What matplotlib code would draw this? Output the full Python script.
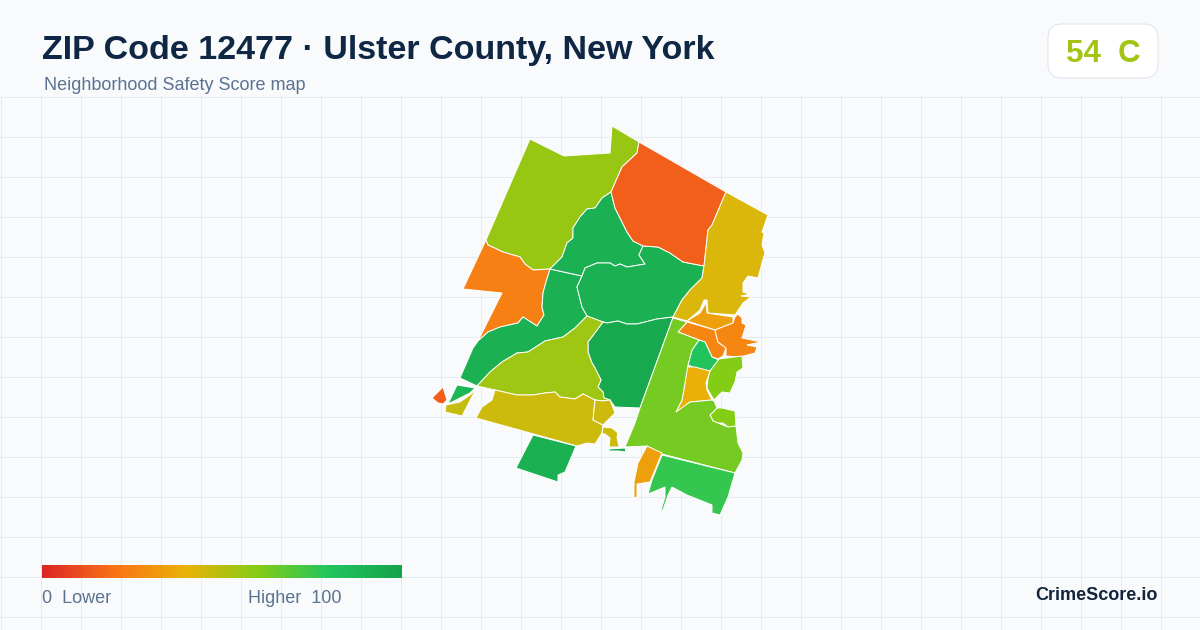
import numpy as np
import matplotlib
matplotlib.use("Agg")
import matplotlib.pyplot as plt
from matplotlib.colors import LinearSegmentedColormap
from matplotlib.patches import Polygon, FancyBboxPatch

TITLE = "ZIP Code 12477 · Ulster County, New York"
SUBTITLE = "Neighborhood Safety Score map"
SCORE_TEXT = "54  C"
BRAND = "CrimeScore.io"

stops = [0, 20, 40, 60, 80, 100]
stop_colors = ["#dc2626", "#f97316", "#eab308", "#84cc16", "#22c55e", "#16a34a"]

nw_lime = [(530,139),(564,156),(610,153),(612,126),(639,142),(637,153),(622,167),(611,192),(602,198),(595,208),(587,209),(580,217),(573,228),(573,238),(567,243),(562,257),(553,266),(550,269),(533,270),(525,264),(520,257),(503,252),(488,245),(486,240)]
w_orange = [(486,240),(488,245),(503,252),(520,257),(525,264),(533,270),(550,269),(546,282),(543,293),(542,307),(544,315),(537,326),(523,317),(518,323),(500,327),(488,332),(478,341),(502,293),(463,289)]
long_green = [(478,341),(488,332),(500,327),(518,323),(523,317),(537,326),(544,315),(542,307),(543,293),(546,282),(550,269),(582,276),(577,287),(582,307),(587,316),(575,328),(563,337),(545,341),(528,352),(517,353),(502,362),(490,372),(477,386),(460,378),(473,348)]
n_green = [(611,192),(615,208),(627,232),(633,241),(643,246),(639,255),(645,264),(627,267),(620,264),(615,266),(610,263),(597,263),(585,268),(582,276),(550,269),(553,266),(562,257),(567,243),(573,238),(573,228),(580,217),(587,209),(595,208),(602,198)]
c_green = [(582,276),(585,268),(597,263),(610,263),(615,266),(620,264),(627,267),(645,264),(639,255),(643,246),(658,247),(670,253),(683,262),(704,266),(702,278),(690,290),(682,300),(673,317),(657,319),(637,324),(627,324),(618,321),(607,323),(603,322),(587,316),(582,307),(577,287)]
s_green = [(603,322),(607,323),(618,321),(627,324),(637,324),(657,319),(673,317),(671,323),(640,408),(615,407),(610,400),(604,398),(603,392),(598,387),(601,380),(595,368),(592,363),(588,352),(588,342)]
mid_lime = [(587,316),(603,322),(588,342),(588,352),(592,363),(595,368),(601,380),(598,387),(603,392),(604,398),(610,400),(603,401),(595,400),(583,394),(575,399),(560,397),(555,392),(545,393),(533,395),(517,395),(495,390),(477,386),(490,372),(502,362),(517,353),(528,352),(545,341),(563,337),(575,328)]
s_gold = [(495,390),(517,395),(533,395),(545,393),(555,392),(560,397),(575,399),(583,394),(595,400),(593,420),(603,425),(602,433),(595,444),(587,443),(577,446),(476,418),(482,407),(492,400)]
small_gold = [(595,400),(603,401),(610,400),(615,413),(608,420),(603,425),(593,420)]
tiny_gold = [(603,427),(612,428),(618,433),(617,437),(619,447),(609,447),(610,438),(605,434),(602,434)]
tiny_green = [(609,449),(625,448),(626,452),(618,451),(609,451)]
sw_green = [(533,435),(576,446),(565,472),(558,475),(558,482),(516,468)]
tiny_red = [(432,398),(443,387),(447,400),(443,404),(438,403)]
w_green = [(457,385),(475,388),(470,393),(448,404)]
w_gold = [(476,389),(462,416),(445,412),(446,405),(460,402),(470,395)]
n_red = [(639,142),(726,192),(712,225),(708,230),(704,266),(683,262),(670,253),(658,247),(643,246),(633,241),(627,232),(615,208),(611,192),(622,167),(637,153)]
ne_gold = [(726,192),(768,215),(762,232),(764,233),(762,245),(765,253),(762,263),(758,278),(748,276),(743,283),(743,292),(750,294),(741,296),(751,297),(743,303),(735,315),(708,313),(707,300),(704,300),(700,310),(687,321),(673,317),(682,300),(690,290),(702,278),(704,266),(708,230),(712,225)]
e_amber = [(687,321),(700,313),(706,303),(707,313),(733,317),(733,323),(715,330)]
e_orange1 = [(678,332),(687,322),(715,330),(718,342),(726,348),(723,356),(718,359),(712,357),(705,342),(699,340)]
e_orange2 = [(715,330),(733,323),(735,317),(738,314),(742,318),(742,323),(746,325),(742,338),(761,342),(747,345),(757,347),(755,353),(740,357),(726,356),(726,348),(718,342)]
e_green = [(699,340),(705,342),(712,357),(719,360),(710,371),(695,368),(688,365),(692,350)]
e_lime = [(719,359),(742,356),(743,368),(737,372),(735,382),(730,393),(722,392),(714,400),(707,388),(708,378),(710,371)]
c_gold = [(687,367),(695,367),(710,371),(706,383),(707,390),(712,400),(690,402),(677,413),(676,412),(682,400),(685,383)]
se_lime = [(715,402),(717,408),(722,408),(735,411),(736,426),(728,427),(723,423),(718,423),(713,421),(710,415),(716,409)]
e_big = [(673,318),(687,322),(678,332),(699,340),(692,350),(688,365),(685,383),(682,400),(676,412),(690,402),(712,400),(714,401),(717,408),(710,415),(713,421),(718,423),(728,427),(736,426),(738,443),(743,453),(742,460),(735,473),(662,454),(647,446),(625,447),(635,423),(640,408),(671,323)]
south_green = [(662,455),(735,473),(730,490),(728,497),(720,515),(712,513),(712,505),(687,495),(672,487),(668,495),(663,510),(661,510),(665,497),(665,487),(648,494),(652,480)]
s_amber = [(647,446),(662,453),(650,482),(637,484),(637,497),(634,498),(634,482),(638,463)]

regions = [nw_lime, w_orange, long_green, n_green, c_green, s_green, mid_lime, s_gold, small_gold,
           tiny_gold, tiny_green, sw_green, tiny_red, w_green, w_gold, n_red, ne_gold, e_amber,
           e_orange1, e_orange2, e_green, e_lime, c_gold, se_lime, e_big, south_green, s_amber]
scores = [56, 24, 92, 92, 92, 97, 55, 46, 46, 46, 96, 92, 15, 88, 47, 15, 43, 34,
          26, 26, 81, 60, 39, 60, 63, 76, 34]

plt.rcParams["font.family"] = ["Liberation Sans", "DejaVu Sans"]
cmap = LinearSegmentedColormap.from_list("safety", [(s / 100, c) for s, c in zip(stops, stop_colors)])

fig = plt.figure(figsize=(12, 6.3), dpi=100, facecolor="#f8fafc")
ax = fig.add_axes([0, 0, 1, 1])
ax.set_xlim(0, 1200)
ax.set_ylim(630, 0)
ax.axis("off")

grid_color = "#e2ecf1"
for x in np.arange(0.5, 1200, 40):
    ax.plot([x, x], [96, 630], color=grid_color, lw=0.72, zorder=1, solid_capstyle="butt")
for y in np.arange(96.5, 630, 40):
    ax.plot([0, 1200], [y, y], color=grid_color, lw=0.72, zorder=1, solid_capstyle="butt")

for verts, score in zip(regions, scores):
    ax.add_patch(Polygon(verts, closed=True, facecolor=cmap(score / 100), edgecolor="white",
                         lw=0.7, joinstyle="round", zorder=3))

ax.text(42, 50, TITLE, fontsize=24.45, fontweight="bold", color="#0f2744", va="center", ha="left", zorder=5)
ax.text(44, 86, SUBTITLE, fontsize=12.95, color="#5a7391", va="center", ha="left", zorder=5)

ax.add_patch(FancyBboxPatch((1062, 38), 82, 26, boxstyle="round,pad=14,rounding_size=14",
                            facecolor="white", edgecolor="#dde3ec", lw=0.72, zorder=4))
ax.text(1103, 54, SCORE_TEXT, fontsize=22.5, fontweight="bold", color="#a3c413", va="center", ha="center", zorder=5)

ax.imshow(np.linspace(0, 1, 360).reshape(1, -1), cmap=cmap, vmin=0, vmax=1, extent=(42, 402, 578, 565),
          aspect="auto", zorder=4, interpolation="bilinear")
ax.set_xlim(0, 1200)
ax.set_ylim(630, 0)
ax.text(42, 598.5, "0  Lower", fontsize=12.95, color="#5a7391", va="center", ha="left", zorder=5)
ax.text(342, 598.5, "Higher  100", fontsize=12.95, color="#5a7391", va="center", ha="right", zorder=5)
ax.text(1158, 595, BRAND, fontsize=13.0, fontweight="bold", color="#14243c", va="center", ha="right", zorder=5)

fig.savefig("out.png", dpi=100, facecolor=fig.get_facecolor())
